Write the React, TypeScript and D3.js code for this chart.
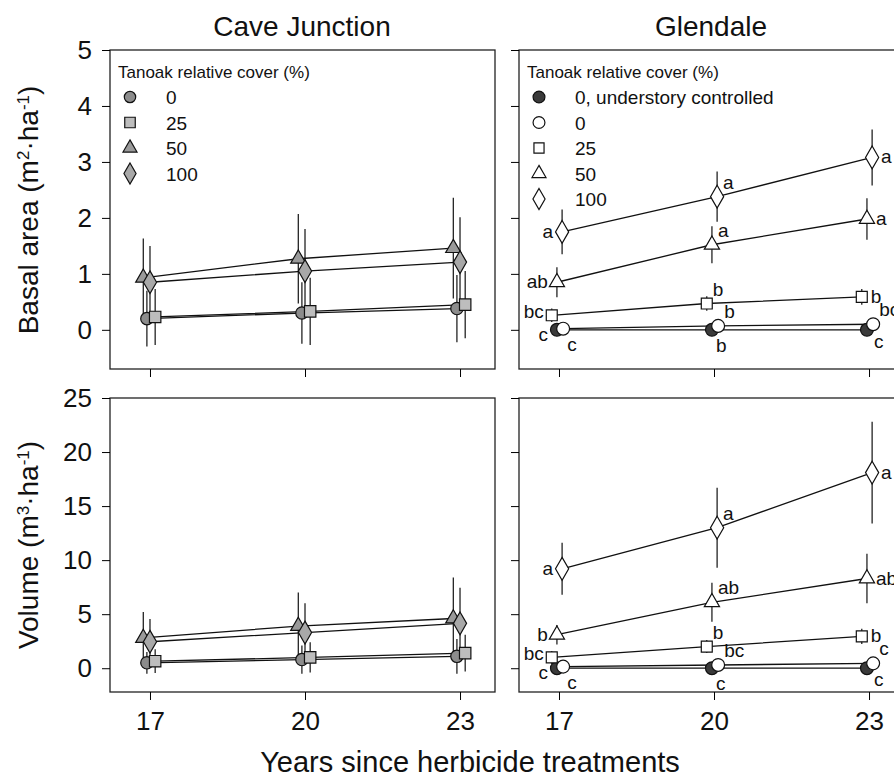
import React, { useEffect, useRef } from 'react';
import * as d3 from 'd3';

// years since herbicide treatment
const years = [17, 20, 23];
const basalTicks = [0, 1, 2, 3, 4, 5];
const volumeTicks = [0, 5, 10, 15, 20, 25];

// Cave Junction - basal area (m2/ha)
const cjBasal0 = [0.2, 0.3, 0.38];
const cjBasal0Err = [0.5, 0.55, 0.6];
const cjBasal25 = [0.23, 0.33, 0.45];
const cjBasal25Err = [0.5, 0.6, 0.6];
const cjBasal50 = [0.93, 1.27, 1.46];
const cjBasal50Err = [0.7, 0.8, 0.9];
const cjBasal100 = [0.85, 1.05, 1.21];
const cjBasal100Err = [0.65, 0.75, 0.8];

// Cave Junction - volume (m3/ha)
const cjVol0 = [0.5, 0.8, 1.1];
const cjVol0Err = [1.0, 1.3, 1.6];
const cjVol25 = [0.65, 1.0, 1.4];
const cjVol25Err = [1.1, 1.4, 1.7];
const cjVol50 = [2.8, 3.9, 4.6];
const cjVol50Err = [2.4, 3.1, 3.8];
const cjVol100 = [2.45, 3.3, 4.15];
const cjVol100Err = [2.1, 2.7, 3.3];

// Glendale - basal area
const glBasalCtrl = [0, 0, 0];
const glBasalCtrlErr = [0.03, 0.03, 0.03];
const glBasal0 = [0.02, 0.07, 0.1];
const glBasal0Err = [0.05, 0.08, 0.1];
const glBasal25 = [0.26, 0.47, 0.59];
const glBasal25Err = [0.12, 0.13, 0.14];
const glBasal50 = [0.85, 1.52, 1.98];
const glBasal50Err = [0.27, 0.33, 0.37];
const glBasal100 = [1.75, 2.38, 3.08];
const glBasal100Err = [0.4, 0.45, 0.5];

// Glendale - volume
const glVolCtrl = [0, 0, 0];
const glVolCtrlErr = [0.1, 0.1, 0.1];
const glVol0 = [0.15, 0.3, 0.45];
const glVol0Err = [0.2, 0.3, 0.3];
const glVol25 = [1.0, 2.0, 2.95];
const glVol25Err = [0.6, 0.6, 0.7];
const glVol50 = [3.1, 6.1, 8.3];
const glVol50Err = [0.9, 1.8, 2.3];
const glVol100 = [9.2, 13.0, 18.1];
const glVol100Err = [2.4, 3.7, 4.7];

// significance letters (Glendale)
const glBasalCtrlLetters = ['c', 'b', 'c'];
const glBasal0Letters = ['c', 'b', 'bc'];
const glBasal25Letters = ['bc', 'b', 'b'];
const glBasal50Letters = ['ab', 'a', 'a'];
const glBasal100Letters = ['a', 'a', 'a'];
const glVolCtrlLetters = ['c', 'c', 'c'];
const glVol0Letters = ['c', 'bc', 'c'];
const glVol25Letters = ['bc', 'b', 'b'];
const glVol50Letters = ['b', 'ab', 'ab'];
const glVol100Letters = ['a', 'a', 'a'];

const cjLegend = ['0', '25', '50', '100'];
const glLegend = ['0, understory controlled', '0', '25', '50', '100'];

const FONT = '"Liberation Sans", Arial, Helvetica, sans-serif';

// where each letter sits relative to its marker
const letterPos = {
  left: [-9, 6, 'end'],
  leftup: [-8, 3, 'end'],
  leftdown: [-9, 11, 'start'],
  upright: [6, -8, 'start'],
  right: [9, 6, 'start'],
  below: [4, 22, 'start'],
  belowright: [7, 18, 'start'],
};
const mainPlace = ['left', 'upright', 'right'];
const squarePlace = ['leftup', 'upright', 'right'];
const openPlace = ['below', 'upright', 'upright'];
const ctrlPlace = ['leftdown', 'below', 'belowright'];

const cjStyles = [
  { shape: d3.symbolCircle, size: 120, fill: '#8c8c8c', dx: -0.06 },
  { shape: d3.symbolSquare, size: 130, fill: '#bdbdbd', dx: 0.1 },
  { shape: d3.symbolTriangle, size: 100, fill: '#9a9a9a', dx: -0.13 },
  { shape: d3.symbolDiamond, size: 150, fill: '#a8a8a8', dx: 0 },
];
const glStyles = [
  { shape: d3.symbolCircle, size: 130, fill: '#3a3a3a', dx: -0.04 },
  { shape: d3.symbolCircle, size: 130, fill: '#fff', dx: 0.08 },
  { shape: d3.symbolSquare, size: 120, fill: '#fff', dx: -0.14 },
  { shape: d3.symbolTriangle, size: 100, fill: '#fff', dx: -0.04 },
  { shape: d3.symbolDiamond, size: 150, fill: '#fff', dx: 0.06 },
];

const cjBasal = [
  [cjBasal0, cjBasal0Err],
  [cjBasal25, cjBasal25Err],
  [cjBasal50, cjBasal50Err],
  [cjBasal100, cjBasal100Err],
];
const cjVol = [
  [cjVol0, cjVol0Err],
  [cjVol25, cjVol25Err],
  [cjVol50, cjVol50Err],
  [cjVol100, cjVol100Err],
];
const glBasal = [
  [glBasalCtrl, glBasalCtrlErr, glBasalCtrlLetters, ctrlPlace],
  [glBasal0, glBasal0Err, glBasal0Letters, openPlace],
  [glBasal25, glBasal25Err, glBasal25Letters, squarePlace],
  [glBasal50, glBasal50Err, glBasal50Letters, mainPlace],
  [glBasal100, glBasal100Err, glBasal100Letters, mainPlace],
];
const glVol = [
  [glVolCtrl, glVolCtrlErr, glVolCtrlLetters, ctrlPlace],
  [glVol0, glVol0Err, glVol0Letters, openPlace],
  [glVol25, glVol25Err, glVol25Letters, squarePlace],
  [glVol50, glVol50Err, glVol50Letters, mainPlace],
  [glVol100, glVol100Err, glVol100Letters, mainPlace],
];

const App = () => {
  const svgRef = useRef(null);

  useEffect(() => {
    const svg = d3.select(svgRef.current);
    svg.selectAll('*').remove();

    const panels = [
      { x0: 110, x1: 495, y0: 50, y1: 369, domain: [-0.7, 5], ticks: basalTicks, series: cjBasal, styles: cjStyles, yLabels: true, xLabels: false, legend: cjLegend },
      { x0: 519, x1: 904, y0: 50, y1: 369, domain: [-0.7, 5], ticks: basalTicks, series: glBasal, styles: glStyles, yLabels: false, xLabels: false, legend: glLegend },
      { x0: 110, x1: 495, y0: 398, y1: 692, domain: [-2.2, 25], ticks: volumeTicks, series: cjVol, styles: cjStyles, yLabels: true, xLabels: true },
      { x0: 519, x1: 904, y0: 398, y1: 692, domain: [-2.2, 25], ticks: volumeTicks, series: glVol, styles: glStyles, yLabels: false, xLabels: true },
    ];

    panels.forEach((p) => {
      const x = d3.scaleLinear().domain([16.226, 23.677]).range([p.x0, p.x1]);
      const y = d3.scaleLinear().domain(p.domain).range([p.y1, p.y0]);
      const g = svg.append('g');

      // frame
      g.append('rect')
        .attr('x', p.x0).attr('y', p.y0)
        .attr('width', p.x1 - p.x0).attr('height', p.y1 - p.y0)
        .attr('fill', 'none').attr('stroke', '#222').attr('stroke-width', 1.3);

      // axes
      const ya = g.append('g')
        .attr('transform', `translate(${p.x0},0)`)
        .call(d3.axisLeft(y).tickValues(p.ticks).tickSize(8).tickPadding(10)
          .tickFormat(p.yLabels ? d3.format('d') : () => ''));
      ya.select('.domain').remove();
      ya.selectAll('text').style('font-family', FONT).style('font-size', '26px').attr('fill', '#111');

      const xa = g.append('g')
        .attr('transform', `translate(0,${p.y1})`)
        .call(d3.axisBottom(x).tickValues(years).tickSize(8).tickPadding(12)
          .tickFormat(p.xLabels ? d3.format('d') : () => ''));
      xa.select('.domain').remove();
      xa.selectAll('text').style('font-family', FONT).style('font-size', '26px').attr('fill', '#111');

      const line = d3.line().x((d) => x(d[0])).y((d) => y(d[1]));

      // connecting lines
      p.series.forEach((s, i) => {
        const st = p.styles[i];
        g.append('path')
          .datum(years.map((yr, k) => [yr + st.dx, s[0][k]]))
          .attr('d', line)
          .attr('fill', 'none').attr('stroke', '#111').attr('stroke-width', 1.3);
      });

      // error bars
      p.series.forEach((s, i) => {
        const st = p.styles[i];
        g.selectAll(null)
          .data(years.map((yr, k) => ({ yr: yr + st.dx, v: s[0][k], e: s[1][k] })))
          .enter().append('line')
          .attr('x1', (d) => x(d.yr)).attr('x2', (d) => x(d.yr))
          .attr('y1', (d) => y(Math.max(d.v - d.e, p.domain[0])))
          .attr('y2', (d) => y(d.v + d.e))
          .attr('stroke', '#111').attr('stroke-width', 1.2);
      });

      // markers
      p.series.forEach((s, i) => {
        const st = p.styles[i];
        g.selectAll(null)
          .data(years.map((yr, k) => ({ yr: yr + st.dx, v: s[0][k] })))
          .enter().append('path')
          .attr('d', d3.symbol().type(st.shape).size(st.size))
          .attr('transform', (d) => `translate(${x(d.yr)},${y(d.v)})`)
          .attr('fill', st.fill).attr('stroke', '#111').attr('stroke-width', 1.2);
      });

      // letters
      p.series.forEach((s, i) => {
        if (!s[2]) return;
        const st = p.styles[i];
        years.forEach((yr, k) => {
          const pos = letterPos[s[3][k]];
          const anchor = s[3][k] === 'leftdown' ? 'end' : pos[2];
          g.append('text')
            .attr('x', x(yr + st.dx) + pos[0])
            .attr('y', y(s[0][k]) + pos[1])
            .attr('text-anchor', anchor)
            .style('font-family', FONT).style('font-size', '19px').attr('fill', '#111')
            .text(s[2][k]);
        });
      });

      // legend
      if (p.legend) {
        const lg = g.append('g').attr('transform', `translate(${p.x0 + 8},0)`);
        lg.append('text')
          .attr('x', 0).attr('y', 78)
          .style('font-family', FONT).style('font-size', '17px').attr('fill', '#111')
          .text('Tanoak relative cover (%)');
        p.legend.forEach((lab, i) => {
          const st = p.styles[i];
          const cy = 97 + i * 25.5;
          lg.append('path')
            .attr('d', d3.symbol().type(st.shape).size(st.size * 0.85))
            .attr('transform', `translate(${12},${cy})`)
            .attr('fill', st.fill).attr('stroke', '#111').attr('stroke-width', 1.2);
          lg.append('text')
            .attr('x', 48).attr('y', cy + 7)
            .style('font-family', FONT).style('font-size', '19px').attr('fill', '#111')
            .text(lab);
        });
      }
    });

    // panel titles
    [['Cave Junction', 302], ['Glendale', 711]].forEach(([t, cx]) => {
      svg.append('text')
        .attr('x', cx).attr('y', 36)
        .attr('text-anchor', 'middle')
        .style('font-family', FONT).style('font-size', '28px').attr('fill', '#111')
        .text(t);
    });

    // axis titles
    const yTitle = (cy, text, sup) => {
      const t = svg.append('text')
        .attr('transform', `translate(38,${cy}) rotate(-90)`)
        .attr('text-anchor', 'middle')
        .style('font-family', FONT).style('font-size', '28px').attr('fill', '#111');
      t.append('tspan').text(text + ' (m');
      t.append('tspan').attr('baseline-shift', 'super').style('font-size', '17px').text(sup);
      t.append('tspan').text('\u00b7ha');
      t.append('tspan').attr('baseline-shift', 'super').style('font-size', '17px').text('-1');
      t.append('tspan').text(')');
    };
    yTitle(210, 'Basal area', '2');
    yTitle(545, 'Volume', '3');

    svg.append('text')
      .attr('x', 470).attr('y', 772)
      .attr('text-anchor', 'middle')
      .style('font-family', FONT).style('font-size', '29px').attr('fill', '#111')
      .text('Years since herbicide treatments');
  }, []);

  return (
    <div style={{ position: 'absolute', left: 0, top: 0, background: '#fff' }}>
      <svg ref={svgRef} width={894} height={783} style={{ display: 'block' }}></svg>
    </div>
  );
};

export default App;
